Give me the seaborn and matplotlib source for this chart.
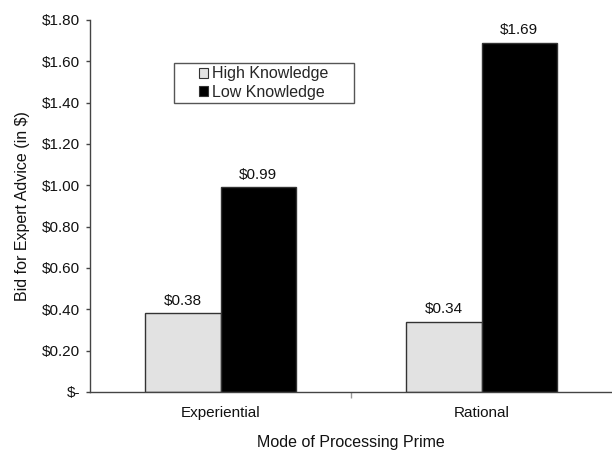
import matplotlib
matplotlib.use("Agg")
import matplotlib.pyplot as plt
import seaborn as sns
import pandas as pd
from matplotlib.ticker import FuncFormatter, FixedLocator
from matplotlib.patches import Patch, Rectangle

categories = ["Experiential", "Rational"]
series_names = ["High Knowledge", "Low Knowledge"]
high_values = [0.38, 0.34]
low_values = [0.99, 1.69]
yticks = [0.0, 0.2, 0.4, 0.6, 0.8, 1.0, 1.2, 1.4, 1.6, 1.8]

sns.set_theme(style="white")
plt.rcParams["font.family"] = ["Liberation Sans", "DejaVu Sans"]

df = pd.DataFrame({
    "cat": categories * 2,
    "series": [series_names[0]] * 2 + [series_names[1]] * 2,
    "val": high_values + low_values,
})

fig = plt.figure(figsize=(6.12, 4.53), dpi=100)
ax = fig.add_axes([90/612, (453-392)/453, 522/612, 372/453])

colors = {"High Knowledge": "#e2e2e2", "Low Knowledge": "#000000"}
sns.barplot(data=df, x="cat", y="val", hue="series", palette=colors,
            width=0.575, edgecolor="#333333", linewidth=1.0, ax=ax,
            legend=False, saturation=1)

ax.set_xlim(-0.5, 1.5)
ax.set_ylim(0, 1.8)
ax.yaxis.set_major_locator(FixedLocator(yticks))
ax.yaxis.set_major_formatter(FuncFormatter(lambda v, p: "$-" if abs(v) < 1e-9 else f"${v:.2f}"))

for c in ax.containers:
    ax.bar_label(c, labels=[f"${v:.2f}" for v in c.datavalues], padding=4,
                 fontsize=11, color="#111111")

for s in ["top", "right"]:
    ax.spines[s].set_visible(False)
for s in ["left", "bottom"]:
    ax.spines[s].set_color("#444444")
    ax.spines[s].set_linewidth(1.0)

ax.tick_params(axis="y", which="major", length=3, width=1, color="#444444",
               labelsize=11, labelcolor="#111111", pad=4, left=True)
ax.tick_params(axis="x", which="major", length=0, labelsize=11, labelcolor="#111111", pad=10)
ax.set_xticks([0.5], minor=True)
ax.tick_params(axis="x", which="minor", length=4, width=1, color="#999999", bottom=True)

ax.set_xlabel("Mode of Processing Prime", fontsize=11.5, color="#111111", labelpad=11)
ax.set_ylabel("Bid for Expert Advice (in $)", fontsize=11.5, color="#111111", labelpad=9)

# legend frame (wider than contents, as in reference)
x0, x1 = (174-90)/522, (354-90)/522
y0, y1 = (392-103)/372, (392-63)/372
ax.add_patch(Rectangle((x0, y0), x1-x0, y1-y0, transform=ax.transAxes,
                       facecolor="white", edgecolor="#555555", linewidth=1.0,
                       zorder=5, clip_on=False))
handles = [Patch(facecolor=colors[n], edgecolor="#333333", linewidth=0.8, label=n)
           for n in series_names]
leg = ax.legend(handles=handles, loc="center", bbox_to_anchor=((x0+x1)/2, (y0+y1)/2),
                fontsize=11.5, frameon=False, handlelength=0.55, handleheight=0.55,
                handletextpad=0.25, labelspacing=0.2, borderpad=0, borderaxespad=0)
leg.set_zorder(6)

fig.savefig("out.png", dpi=100)
